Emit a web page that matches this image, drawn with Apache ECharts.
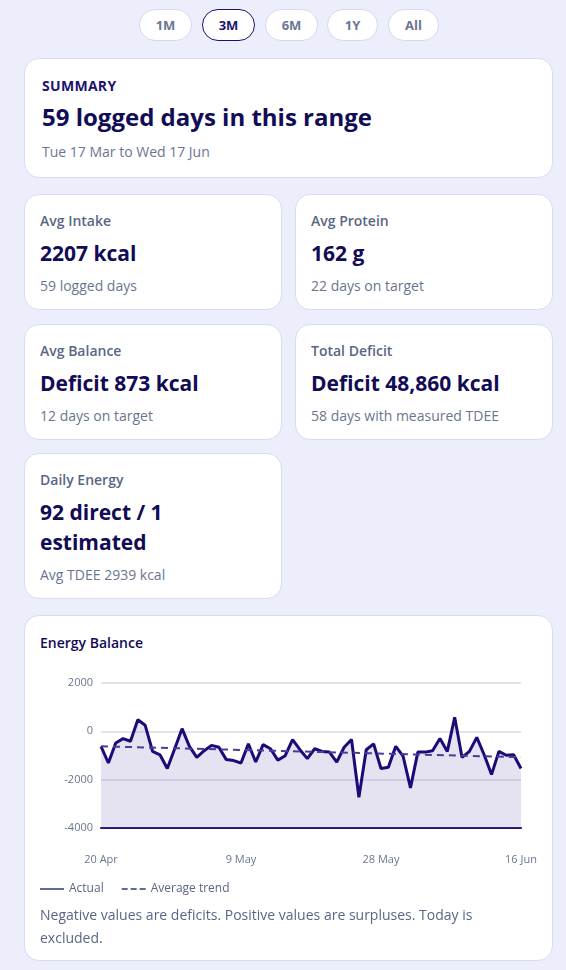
<!DOCTYPE html>
<html><head><meta charset="utf-8">
<script src="https://cdn.jsdelivr.net/npm/echarts@6/dist/echarts.min.js"></script>
<style>
body{margin:0;background:#eceefc;font-family:"Open Sans","Noto Sans",sans-serif;width:566px;height:970px;position:relative;overflow:hidden}
.btn{position:absolute;top:9px;height:30px;border:1px solid #d6d9ef;background:#fff;border-radius:16px;font-size:13px;font-weight:700;color:#6a7694;text-align:center;line-height:30px}
.btn.on{border-color:#1d1270;color:#1d1270}
.card{position:absolute;background:#fff;border:1px solid #d8dbf1;border-radius:15px;box-sizing:border-box}
.lab{position:absolute;left:15px;top:16px;font-size:14px;font-weight:600;color:#5a6684}
.val{position:absolute;left:15px;top:43px;font-size:21px;font-weight:700;color:#110c55;line-height:30px}
.sub{position:absolute;left:15px;top:81px;font-size:14px;color:#6b7590}
</style></head><body>
<div class="btn" style="left:139px;width:51px">1M</div>
<div class="btn on" style="left:202px;width:51px">3M</div>
<div class="btn" style="left:265px;width:51px">6M</div>
<div class="btn" style="left:327px;width:49px">1Y</div>
<div class="btn" style="left:388px;width:49px">All</div>

<div class="card" style="left:24px;top:58px;width:529px;height:120px">
<div style="position:absolute;left:17px;top:17px;font-size:14px;font-weight:700;color:#1d1270;letter-spacing:0.3px">SUMMARY</div>
<div style="position:absolute;left:17px;top:41px;font-size:24px;font-weight:700;color:#110c55">59 logged days in this range</div>
<div style="position:absolute;left:17px;top:83px;font-size:14px;color:#6b7590">Tue 17 Mar to Wed 17 Jun</div>
</div>

<div class="card" style="left:24px;top:194px;width:258px;height:116px"><div class="lab">Avg Intake</div><div class="val">2207 kcal</div><div class="sub">59 logged days</div></div>
<div class="card" style="left:295px;top:194px;width:258px;height:116px"><div class="lab">Avg Protein</div><div class="val">162 g</div><div class="sub">22 days on target</div></div>
<div class="card" style="left:24px;top:324px;width:258px;height:116px"><div class="lab">Avg Balance</div><div class="val">Deficit 873 kcal</div><div class="sub">12 days on target</div></div>
<div class="card" style="left:295px;top:324px;width:258px;height:116px"><div class="lab">Total Deficit</div><div class="val">Deficit 48,860 kcal</div><div class="sub">58 days with measured TDEE</div></div>
<div class="card" style="left:24px;top:453px;width:258px;height:146px"><div class="lab">Daily Energy</div><div class="val">92 direct / 1<br>estimated</div><div class="sub" style="top:111px">Avg TDEE 2939 kcal</div></div>

<div class="card" style="left:24px;top:615px;width:529px;height:346px">
<div style="position:absolute;left:15px;top:17px;font-size:14px;font-weight:600;color:#110c55">Energy Balance</div>
<div id="chart" style="position:absolute;left:0;top:0;width:528px;height:290px"></div>
<div style="position:absolute;left:15px;top:287px;width:480px;font-size:14px;line-height:23px;color:#5a6684">Negative values are deficits. Positive values are surpluses. Today is excluded.</div>
</div>
<script>
const startDate = '2026-04-20';
const actual = [-620,-1310,-480,-300,-410,480,250,-830,-970,-1540,-720,110,-620,-1080,-800,-580,-660,-1170,-1210,-1310,-520,-1270,-550,-720,-1190,-1010,-340,-760,-1130,-720,-830,-860,-1270,-660,-340,-2730,-760,-520,-1540,-1490,-620,-1030,-2340,-860,-860,-800,-300,-830,580,-1080,-830,-250,-970,-1790,-830,-990,-970,-1540];
const trendStart = -620, trendEnd = -1070;
const yTicks = [-4000,-2000,0,2000];
const months=['Jan','Feb','Mar','Apr','May','Jun','Jul','Aug','Sep','Oct','Nov','Dec'];
const d0=new Date(startDate+'T00:00:00Z');
const cats=actual.map((_,i)=>{const d=new Date(d0.getTime()+i*864e5);return d.getUTCDate()+' '+months[d.getUTCMonth()];});
const trend=actual.map((_,i)=>i===0?trendStart:(i===actual.length-1?trendEnd:null));
const c=echarts.init(document.getElementById('chart'));
c.setOption({
 animation:false,
 grid:{left:76,right:32,top:67,bottom:78},
 legend:{left:10,top:262,itemWidth:24,itemHeight:2,itemGap:18,textStyle:{color:'#5a6684',fontSize:12,fontFamily:'Open Sans'},
  data:[{name:'Actual',icon:'rect',itemStyle:{color:'#5f6d90'}},{name:'Average trend',icon:'path://M0,0h6v2h-6zM9,0h6v2h-6zM18,0h6v2h-6z',itemStyle:{color:'#5f6d90'}}]},
 xAxis:{type:'category',data:cats,boundaryGap:false,
  axisLine:{onZero:false,lineStyle:{color:'#22127a',width:2}},axisTick:{show:false},
  axisLabel:{interval:(i)=>i%19===0,color:'#6b7590',fontSize:11,margin:26,fontFamily:'Open Sans'}},
 yAxis:{type:'value',min:yTicks[0],max:yTicks[yTicks.length-1],interval:2000,
  axisLabel:{color:'#6b7590',fontSize:11,fontFamily:'Open Sans',formatter:v=>String(v)},
  splitLine:{lineStyle:{color:'#e3e3ec',width:2}}},
 series:[
  {name:'Actual',type:'line',data:actual,symbol:'none',lineStyle:{color:'#1a0b78',width:3},itemStyle:{color:'#1a0b78'},
   areaStyle:{color:'rgba(110,95,180,0.25)',origin:'start'},z:3},
  {name:'Average trend',type:'line',data:trend,connectNulls:true,symbol:'none',lineStyle:{color:'#4a3c99',width:2,type:[7,5]},itemStyle:{color:'#4a3c99'},z:4}
 ]
});
</script>
</body></html>
